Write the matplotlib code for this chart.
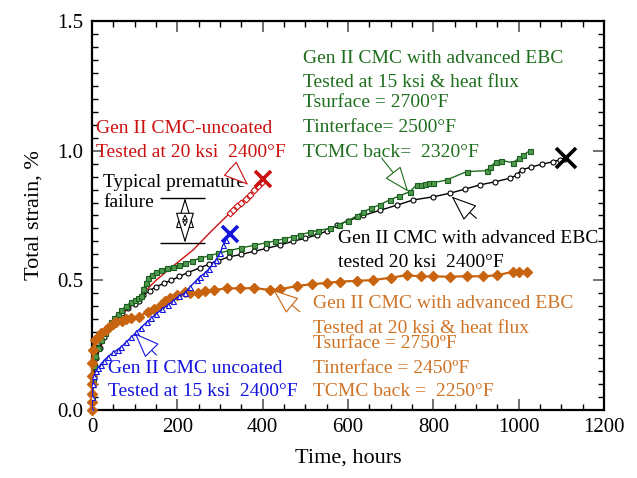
import matplotlib
matplotlib.use("Agg")
import matplotlib.pyplot as plt
from matplotlib.ticker import MultipleLocator
from matplotlib.patches import ArrowStyle

plt.rcParams["font.family"] = ["Liberation Serif", "DejaVu Serif"]

# 15 ksi & heat flux, advanced EBC (green)
green_t = [0, 1, 2, 4, 8, 14, 22, 30, 38, 45, 52, 60, 69, 80, 92, 100, 108, 114, 120, 126, 131,
           140, 150, 162, 175, 190, 205, 217, 235, 253, 275, 295, 320, 350, 380, 409, 430, 450,
           470, 487, 510, 530, 558, 580, 600, 620, 636, 655, 675, 698, 720, 745, 761, 770, 780,
           790, 800, 831, 878, 925, 933, 948, 958, 987, 1000, 1011, 1026]
green_s = [0, 0.05, 0.12, 0.17, 0.21, 0.24, 0.27, 0.295, 0.32, 0.34, 0.355, 0.37, 0.386, 0.40,
           0.418, 0.424, 0.43, 0.44, 0.465, 0.49, 0.51, 0.522, 0.532, 0.54, 0.546, 0.553, 0.56,
           0.566, 0.575, 0.585, 0.595, 0.604, 0.614, 0.625, 0.635, 0.645, 0.652, 0.66, 0.668,
           0.675, 0.685, 0.692, 0.70, 0.715, 0.73, 0.748, 0.765, 0.778, 0.792, 0.81, 0.825, 0.842,
           0.868, 0.869, 0.872, 0.874, 0.876, 0.887, 0.919, 0.923, 0.938, 0.958, 0.962, 0.954,
           0.97, 0.983, 1.0]

# 20 ksi 2400F, advanced EBC (black)
black_t = [0, 1, 3, 6, 10, 18, 28, 40, 55, 70, 85, 100, 110, 120, 135, 150, 168, 186, 205, 225,
           253, 275, 295, 320, 350, 380, 409, 440, 470, 500, 527, 550, 575, 600, 636, 675, 715,
           753, 800, 839, 875, 909, 945, 980, 995, 1007, 1030, 1055, 1080, 1097, 1108]
black_s = [0, 0.06, 0.12, 0.17, 0.2, 0.24, 0.28, 0.315, 0.35, 0.375, 0.395, 0.41, 0.42, 0.443,
           0.46, 0.475, 0.488, 0.50, 0.515, 0.53, 0.548, 0.563, 0.575, 0.59, 0.60, 0.612, 0.623,
           0.636, 0.65, 0.662, 0.675, 0.69, 0.712, 0.73, 0.75, 0.77, 0.79, 0.81, 0.822, 0.836,
           0.852, 0.868, 0.88, 0.894, 0.905, 0.926, 0.937, 0.948, 0.957, 0.965, 0.967]

# 15 ksi 2400F, uncoated (blue)
blue_t = [0, 1, 2, 5, 10, 14, 20, 28, 37, 50, 60, 69, 80, 92, 104, 115, 128, 139, 150, 165, 178,
          190, 205, 217, 230, 245, 253, 264, 275, 284, 291, 300, 308, 315]
blue_s = [0, 0.05, 0.10, 0.13, 0.15, 0.16, 0.175, 0.19, 0.205, 0.222, 0.233, 0.244, 0.262, 0.28,
          0.30, 0.318, 0.338, 0.354, 0.37, 0.39, 0.405, 0.42, 0.44, 0.45, 0.475, 0.50, 0.514,
          0.527, 0.545, 0.565, 0.58, 0.605, 0.635, 0.655]

# 20 ksi 2400F, uncoated (red)
red_t = [0, 2, 10, 30, 60, 90, 110, 120, 150, 190, 237, 280, 323, 330, 340, 350, 360, 370, 380,
         390, 398]
red_s = [0, 0.1, 0.2, 0.28, 0.35, 0.40, 0.425, 0.45, 0.50, 0.555, 0.617, 0.69, 0.759, 0.77,
         0.785, 0.80, 0.815, 0.83, 0.848, 0.862, 0.878]

# 20 ksi & heat flux, advanced EBC (orange)
orange_t = [0, 0, 0, 0, 0, 1, 2, 6, 14, 22, 32, 41, 50, 57, 70, 80, 92, 110, 131, 145, 162, 172,
            182, 200, 217, 230, 248, 265, 287, 316, 347, 380, 417, 440, 480, 515, 550, 581, 620,
            659, 700, 738, 770, 800, 839, 880, 917, 950, 987, 1000, 1019]
orange_s = [0.0, 0.03, 0.06, 0.10, 0.13, 0.18, 0.23, 0.27, 0.28, 0.296, 0.31, 0.321, 0.33, 0.34,
            0.345, 0.35, 0.353, 0.36, 0.379, 0.39, 0.405, 0.42, 0.43, 0.443, 0.456, 0.452, 0.45,
            0.458, 0.463, 0.469, 0.469, 0.47, 0.463, 0.465, 0.478, 0.485, 0.49, 0.495, 0.498,
            0.501, 0.51, 0.52, 0.515, 0.515, 0.514, 0.516, 0.515, 0.52, 0.533, 0.533, 0.533]

# failure points
fail_t = [1110, 323, 401]
fail_s = [0.97, 0.68, 0.89]

RED = "#CC1111"
GREEN = "#1E6E1E"
BLUE = "#1414DC"
ORANGE = "#C8640F"
ORANGE_TXT = "#CF7426"

fig = plt.figure(figsize=(6.37, 4.78), dpi=100)
ax = fig.add_axes([0.1444, 0.1423, 0.8038, 0.8138])

ax.plot(red_t, red_s, color=RED, lw=1.0, marker="D", ms=3.5, mfc="white", mec=RED, mew=0.8,
        markevery=slice(12, None), zorder=2)
ax.plot(black_t, black_s, color="black", lw=1.0, marker="o", ms=3.6, mfc="white", mec="black",
        mew=0.8, zorder=3)
ax.plot(green_t, green_s, color=GREEN, lw=1.0, marker="s", ms=3.6, mfc="#4E9A4E", mec="#1B5E20",
        mew=0.8, zorder=4)
ax.plot(orange_t, orange_s, color=ORANGE, lw=1.6, marker="D", ms=5, mfc=ORANGE, mec=ORANGE,
        zorder=5, clip_on=False)
ax.plot(blue_t, blue_s, color=BLUE, lw=1.0, marker="^", ms=3.6, mfc="white", mec=BLUE, mew=0.8,
        zorder=6)

for (tx, sx), c, size in zip(zip(fail_t, fail_s), ["black", BLUE, RED], [14, 12, 12]):
    ax.plot([tx], [sx], marker="x", ms=size, mew=2.6, color=c, zorder=7)

fs = 14
# red label
ax.text(9, 1.068, "Gen II CMC-uncoated", color=RED, fontsize=fs)
ax.text(9, 0.976, "Tested at 20 ksi  2400°F", color=RED, fontsize=fs)
# green label
green_lines = ["Gen II CMC with advanced EBC", "Tested at 15 ksi & heat flux",
               "Tsurface = 2700°F", "Tinterface= 2500°F", "TCMC back=  2320°F"]
for txt, yb in zip(green_lines, [1.338, 1.246, 1.169, 1.072, 0.976]):
    ax.text(494, yb, txt, color=GREEN, fontsize=fs)
# black label
ax.text(576, 0.643, "Gen II CMC with advanced EBC", color="black", fontsize=fs)
ax.text(576, 0.553, "tested 20 ksi  2400°F", color="black", fontsize=fs)
# orange label
orange_lines = ["Gen II CMC with advanced EBC", "Tested at 20 ksi & heat flux",
                "Tsurface = 2750ºF", "Tinterface = 2450ºF", "TCMC back =  2250°F"]
for txt, yb in zip(orange_lines, [0.392, 0.298, 0.238, 0.144, 0.054]):
    ax.text(518, yb, txt, color=ORANGE_TXT, fontsize=fs)
# blue label
ax.text(37, 0.144, "Gen II CMC uncoated", color=BLUE, fontsize=fs)
ax.text(37, 0.054, "Tested at 15 ksi  2400°F", color=BLUE, fontsize=fs)
# premature failure
ax.text(26, 0.859, "Typical premature", color="black", fontsize=fs)
ax.text(26, 0.784, "failure", color="black", fontsize=fs)
ax.hlines([0.818, 0.644], 159, 265, color="black", lw=1.0)
big_head = ArrowStyle("-|>", head_length=1.0, head_width=0.3)
for tip in (0.818, 0.644):
    ax.annotate("", xy=(218, tip), xytext=(218, 0.731),
                arrowprops=dict(arrowstyle=big_head, fc="white", ec="black", lw=0.8,
                                mutation_scale=20, shrinkA=0, shrinkB=0))
ax.annotate("", xy=(218, 0.755), xytext=(218, 0.707),
            arrowprops=dict(arrowstyle="<|-|>", fc="white", ec="black", lw=0.7,
                            mutation_scale=8, shrinkA=0, shrinkB=0))

# callout arrows
head = ArrowStyle("-|>", head_length=0.9, head_width=0.35)
callouts = [((323, 0.932), (366, 0.868), RED), ((679, 0.971), (741, 0.842), GREEN),
            ((901, 0.739), (843, 0.823), "black"), ((487, 0.379), (425, 0.463), ORANGE),
            ((151, 0.212), (100, 0.296), BLUE)]
for tail, tip, c in callouts:
    ax.annotate("", xy=tip, xytext=tail,
                arrowprops=dict(arrowstyle=head, fc="white", ec=c, lw=0.8,
                                mutation_scale=18, shrinkA=0, shrinkB=0), zorder=8)

ax.set_xlim(0, 1200)
ax.set_ylim(0, 1.5)
ax.xaxis.set_major_locator(MultipleLocator(200))
ax.xaxis.set_minor_locator(MultipleLocator(50))
ax.yaxis.set_major_locator(MultipleLocator(0.5))
ax.yaxis.set_minor_locator(MultipleLocator(0.05))
ax.yaxis.set_major_formatter(matplotlib.ticker.FormatStrFormatter("%.1f"))
ax.tick_params(which="both", direction="in", top=True, right=True, labelsize=15)
ax.tick_params(which="major", length=8, width=1.4, color="#707070", pad=6)
ax.tick_params(which="minor", length=4.5, width=1.0, color="black")
for sp in ax.spines.values():
    sp.set_linewidth(1.6)

ax.set_xlabel("Time, hours", fontsize=16, labelpad=8)
ax.set_ylabel("Total strain, %", fontsize=16, labelpad=10)

fig.savefig("out.png", dpi=100)
